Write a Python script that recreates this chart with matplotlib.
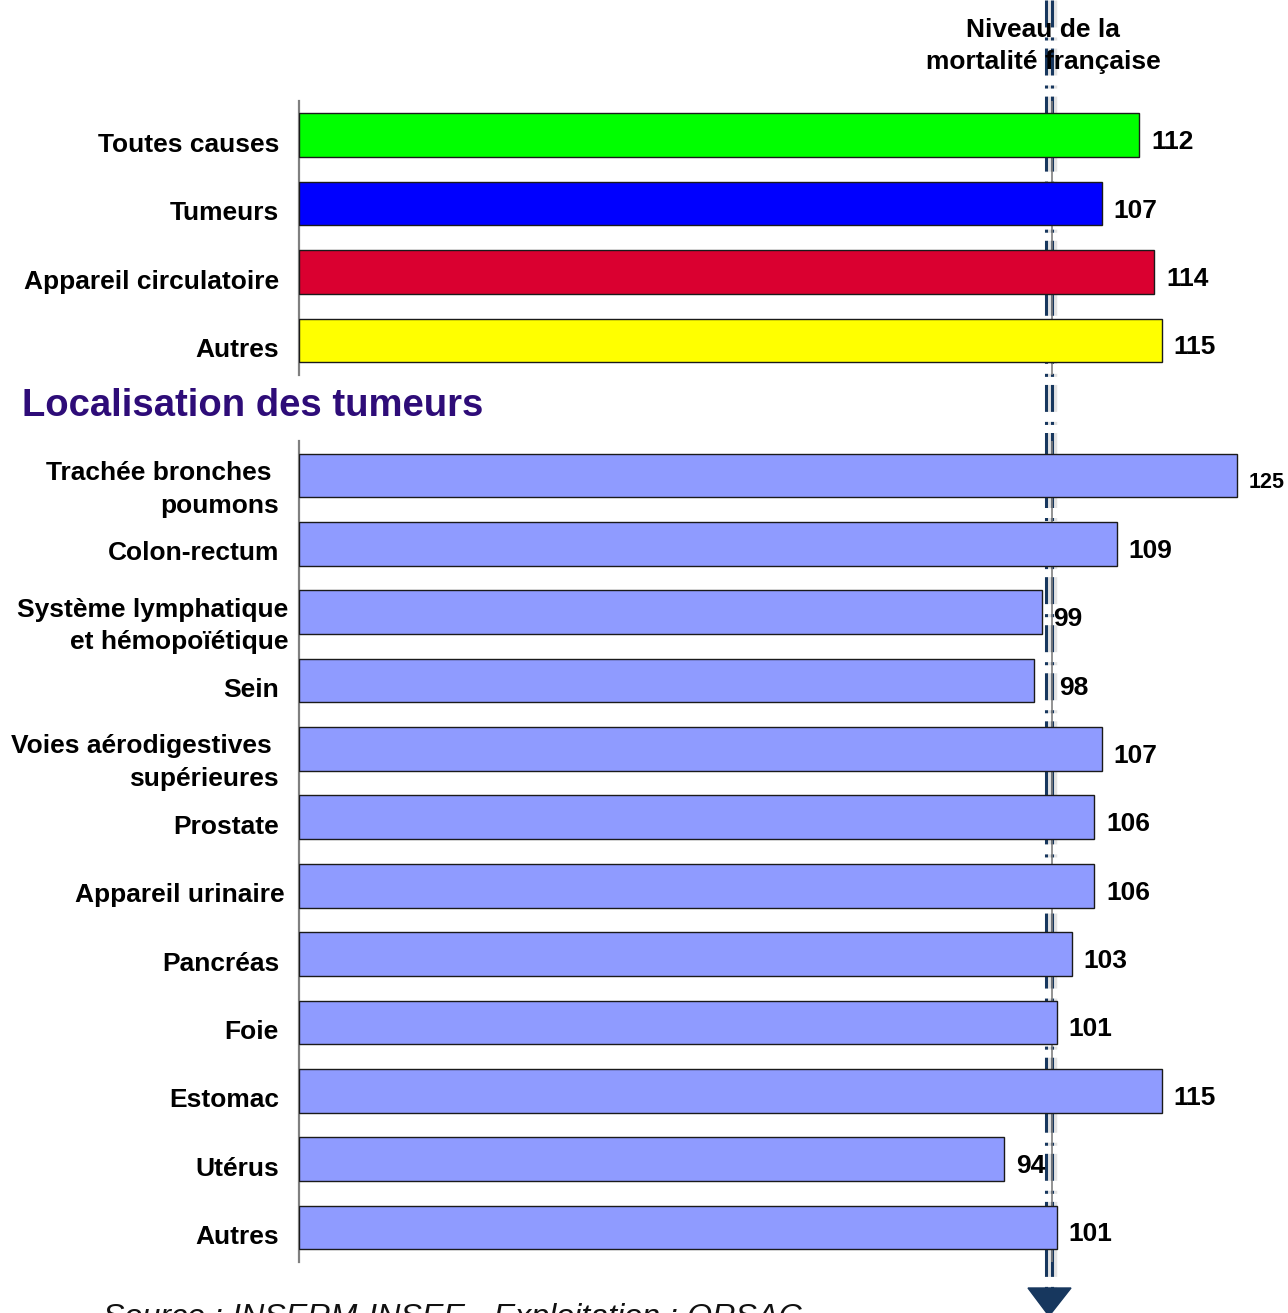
import matplotlib
matplotlib.use("Agg")
import matplotlib.pyplot as plt
import matplotlib.transforms as mtrans
from matplotlib.lines import Line2D
from matplotlib.patches import Polygon

# ---------------- data ----------------
top_labels = ["Toutes causes", "Tumeurs", "Appareil circulatoire", "Autres"]
top_values = [112, 107, 114, 115]
top_colors = ["#00FF00", "#0000FF", "#DA0030", "#FFFF00"]

tum_labels = ["Trachée bronches \npoumons", "Colon-rectum", "Système lymphatique\net hémopoïétique",
              "Sein", "Voies aérodigestives \nsupérieures", "Prostate", "Appareil urinaire",
              "Pancréas", "Foie", "Estomac", "Utérus", "Autres"]
tum_values = [125, 109, 99, 98, 107, 106, 106, 103, 101, 115, 94, 101]
tum_color = "#8F9BFF"

section_title = "Localisation des tumeurs"
ref_label = "Niveau de la\nmortalité française"
ref_value = 100
source_text = "Source : INSERM-INSEE - Exploitation : ORSAC"

# ---------------- figure ----------------
W, H = 1288, 1313
fig = plt.figure(figsize=(W / 100, H / 100), dpi=100)
FONT = ["Liberation Sans", "DejaVu Sans"]
PX = 72 / 100  # points per pixel

XMAX = 130
X0, AXW = 299, 7.5 * XMAX
STEP_TOP, STEP_BOT = 68.5, 68.36
top_center0 = 135.0
bot_center0 = 475.5


def make_axes(c0, n, step):
    top = c0 - step / 2
    h = n * step
    ax = fig.add_axes([X0 / W, 1 - (top + h) / H, AXW / W, h / H])
    ax.set_xlim(0, XMAX)
    ax.set_ylim(n - 0.5, -0.5)
    ax.set_facecolor("none")
    for s in ["top", "right", "bottom"]:
        ax.spines[s].set_visible(False)
    ax.spines["left"].set_color("#808080")
    ax.spines["left"].set_linewidth(1.6)
    ax.set_xticks([])
    ax.tick_params(axis="y", length=0, pad=20 * PX)
    return ax


ax1 = make_axes(top_center0, len(top_labels), STEP_TOP)
ax2 = make_axes(bot_center0, len(tum_labels), STEP_BOT)

lab_fs = 19
label_shift = {ax2: {2: 9, 6: 6}}
value_shift = {ax2: {3: 13}}
for ax, labels, values, colors in [
    (ax1, top_labels, top_values, top_colors),
    (ax2, tum_labels, tum_values, [tum_color] * len(tum_values)),
]:
    ypos = list(range(len(labels)))
    ax.axvline(ref_value + 0.4, color="#808080", lw=1.2, zorder=1)
    ax.barh(ypos, values, height=0.64, color=colors, edgecolor="#1a1a1a", linewidth=1.0, zorder=3)
    ax.set_yticks(ypos)
    ax.set_yticklabels(labels, fontsize=lab_fs, fontweight="bold", family=FONT,
                       ha="right", multialignment="right", linespacing=1.45)
    for i, (y, v) in enumerate(zip(ypos, values)):
        fs = 15.5 if v >= 125 else lab_fs
        dx = 12 + value_shift.get(ax, {}).get(i, 0)
        ax.annotate(str(v), (v, y), xytext=(dx, -7), textcoords="offset pixels",
                    ha="left", va="center", fontsize=fs, fontweight="bold", family=FONT, zorder=4)
    for i, t in enumerate(ax.get_yticklabels()):
        sx = label_shift.get(ax, {}).get(i, 0)
        off = mtrans.ScaledTranslation(sx / 100, -7 / 100, fig.dpi_scale_trans)
        t.set_transform(t.get_transform() + off)

# section title
fig.text(22 / W, 1 - 406 / H, section_title, fontsize=27.5, fontweight="bold", family=FONT,
         color="#2E0C78", ha="left", va="center")

# reference line (double dash-dot) spanning the figure
xref = ax1.transData.transform((ref_value, 0))[0]
plt.rcParams["lines.scale_dashes"] = False
dash = (0, (19.4, 7.2, 2.2, 5.8))
for dx in (-3, 3):
    xf = (xref + dx) / W
    fig.add_artist(Line2D([xf + 3 / W, xf + 3 / W], [1.0, 1 - 1290 / H], color="#C8C8C8",
                          lw=2.5, alpha=0.5, linestyle=dash, zorder=-2, transform=fig.transFigure))
    fig.add_artist(Line2D([xf, xf], [1.0, 1 - 1290 / H], color="#17375E", lw=2.2,
                          linestyle=dash, zorder=-1, transform=fig.transFigure))
tri = Polygon([[(xref - 21) / W, 1 - 1288 / H], [(xref + 22) / W, 1 - 1288 / H],
               [xref / W, 1 - 1316 / H]], closed=True, color="#17375E",
              transform=fig.transFigure, zorder=-1)
fig.add_artist(tri)

fig.text(1043 / W, 1 - 46 / H, ref_label, fontsize=lab_fs, fontweight="bold", family=FONT,
         ha="center", va="center", multialignment="center", linespacing=1.4)

fig.text(103 / W, 1 - 1326 / H, source_text, fontsize=23.2, style="italic", family=FONT,
         ha="left", va="baseline", color="#111111")

fig.savefig("out.png", dpi=100)
